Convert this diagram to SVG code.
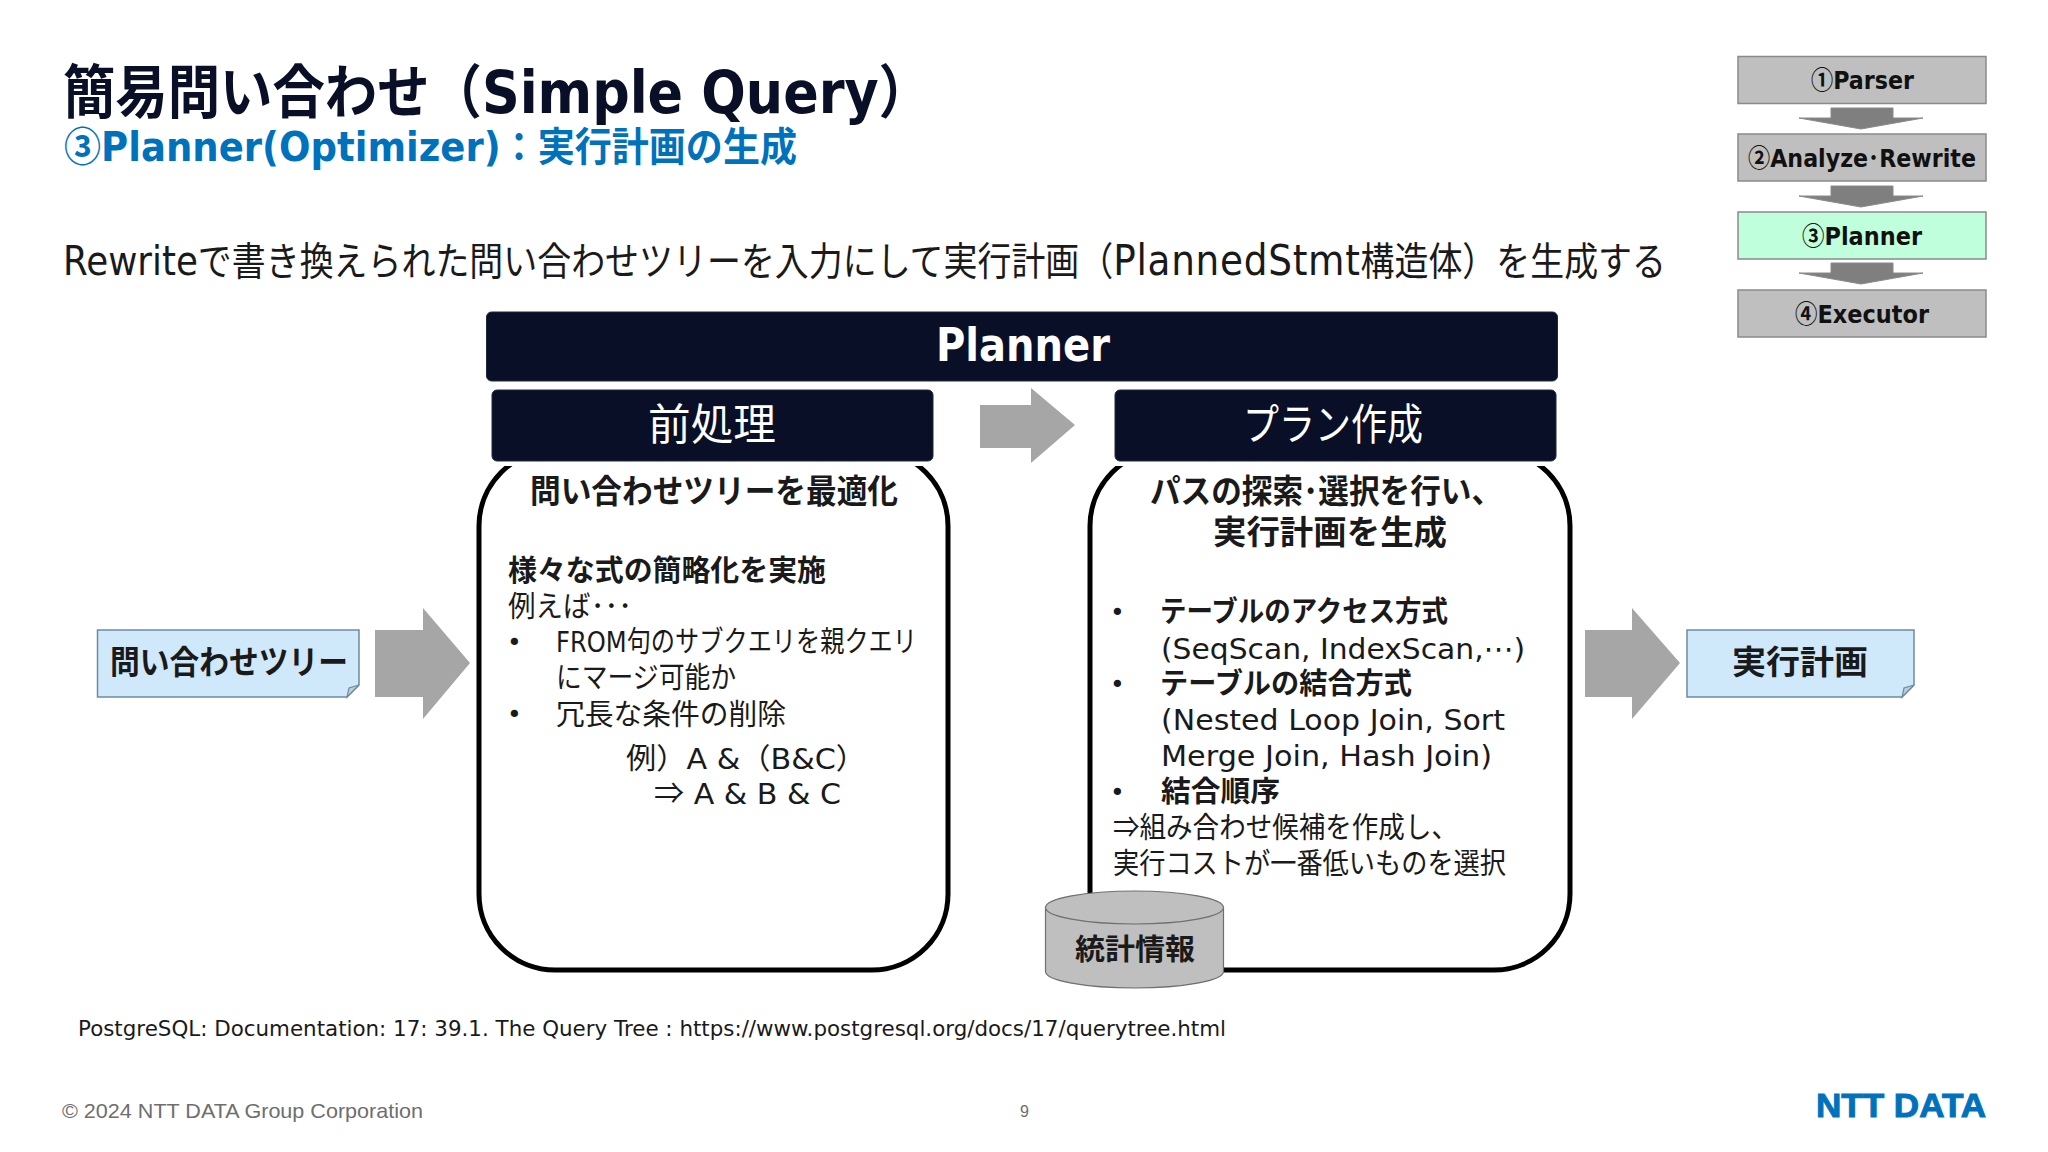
<svg xmlns="http://www.w3.org/2000/svg" width="2048" height="1152" viewBox="0 0 2048 1152">
<style>
text{font-family:"DejaVu Sans","Noto Sans CJK JP",sans-serif;fill:#1a1a1a}
.c{font-family:"Noto Sans CJK JP",sans-serif}
.b{font-weight:700}
.dk{fill:#080f26}
.step{font-size:25px;font-weight:700;fill:#111}
.stepbox{stroke:#8a8a8a;stroke-width:1.5}
.grey{fill:#bfbfbf}
.dn{fill:#7f7f7f;stroke:#8a8a8a;stroke-width:1}
.big{fill:#a6a6a6}
.hd{fill:#080f26;stroke:#1f2940;stroke-width:1}
.panel{fill:#fff;stroke:#000;stroke-width:5}
.note{fill:#cfe9fb;stroke:#6f8aa0;stroke-width:1.5}
.fold{fill:#b9cfdc;stroke:#6f8aa0;stroke-width:1.2}
.t33{font-size:33px;font-weight:700}
.t29{font-size:29px}
.dot{font-size:25px}
</style>
<rect width="2048" height="1152" fill="#fff"/>

<g id="title">
<text x="63" y="113" font-size="58" class="b dk" textLength="868" lengthAdjust="spacingAndGlyphs">簡易問い合わせ（Simple Query）</text>
<text x="64" y="161" font-size="40" class="b" style="fill:#0072bc" textLength="733" lengthAdjust="spacingAndGlyphs"><tspan class="c">③</tspan>Planner(Optimizer)：実行計画の生成</text>
<text x="63" y="275" font-size="39" textLength="1603" lengthAdjust="spacingAndGlyphs"><tspan font-size="41">Rewrite</tspan>で書き換えられた問い合わせツリーを入力にして実行計画（<tspan font-size="43" letter-spacing="0.8">PlannedStmt</tspan>構造体）を生成する</text>
</g>

<g id="connectors">
<polygon class="dn" points="1831,108 1893,108 1893,118 1923,118 1861,129 1799,118 1831,118"/>
<polygon class="dn" points="1831,186 1893,186 1893,196 1923,196 1861,207 1799,196 1831,196"/>
<polygon class="dn" points="1831,263 1893,263 1893,273 1923,273 1861,284 1799,273 1831,273"/>
<polygon class="big" points="375,630 423,630 423,608 470,663 423,719 423,697 375,697"/>
<polygon class="big" points="980,405 1031,405 1031,388 1075,425 1031,463 1031,448 980,448"/>
<polygon class="big" points="1585,630 1632,630 1632,608 1680,663 1632,719 1632,697 1585,697"/>
</g>

<g id="step-parser"><rect class="stepbox grey" x="1738" y="56.500" width="248" height="47"/><text class="step" x="1811" y="89" textLength="103" lengthAdjust="spacingAndGlyphs"><tspan class="c">①</tspan>Parser</text></g>
<g id="step-analyze"><rect class="stepbox grey" x="1738" y="134" width="248" height="47"/><text class="step" x="1748" y="167" textLength="228" lengthAdjust="spacingAndGlyphs"><tspan class="c">②</tspan>Analyze･Rewrite</text></g>
<g id="step-planner"><rect class="stepbox" fill="#bfffdc" x="1738" y="212" width="248" height="47"/><text class="step" x="1802" y="245" textLength="120" lengthAdjust="spacingAndGlyphs"><tspan class="c">③</tspan>Planner</text></g>
<g id="step-executor"><rect class="stepbox grey" x="1738" y="290" width="248" height="47"/><text class="step" x="1795" y="323" textLength="134" lengthAdjust="spacingAndGlyphs"><tspan class="c">④</tspan>Executor</text></g>

<g id="planner-bar"><rect class="hd" x="486.500" y="312" width="1071" height="69" rx="5"/><text class="b" x="936" y="361" font-size="46" style="fill:#fff" textLength="174" lengthAdjust="spacingAndGlyphs">Planner</text></g>

<g id="panel-pre">
<rect class="panel" x="479" y="450" width="469" height="520" rx="76"/>
<rect x="484" y="461" width="460" height="5" fill="#fff"/>
<rect class="hd" x="492" y="390" width="441" height="71" rx="5"/>
<text x="648" y="440" font-size="43" style="fill:#fff" textLength="128" lengthAdjust="spacingAndGlyphs">前処理</text>
<text class="t33" x="530" y="503" textLength="368" lengthAdjust="spacingAndGlyphs">問い合わせツリーを最適化</text>
<text class="t29 b" x="508" y="581" textLength="318" lengthAdjust="spacingAndGlyphs">様々な式の簡略化を実施</text>
<text class="t29" x="508" y="617" textLength="124" lengthAdjust="spacingAndGlyphs">例えば･･･</text>
<text class="dot" x="507" y="651">•</text>
<text class="t29" x="556" y="652" textLength="361" lengthAdjust="spacingAndGlyphs">FROM句のサブクエリを親クエリ</text>
<text class="t29" x="556" y="688" textLength="180" lengthAdjust="spacingAndGlyphs">にマージ可能か</text>
<text class="dot" x="507" y="723">•</text>
<text class="t29" x="556" y="725" textLength="230" lengthAdjust="spacingAndGlyphs">冗長な条件の削除</text>
<text class="t29" x="626" y="769" textLength="240" lengthAdjust="spacingAndGlyphs">例）A &amp;（B&amp;C）</text>
<text class="t29" x="654" y="804" textLength="187" lengthAdjust="spacingAndGlyphs"><tspan class="c">⇒</tspan> A &amp; B &amp; C</text>
</g>

<g id="panel-plan">
<rect class="panel" x="1090" y="450" width="480" height="520" rx="76"/>
<rect x="1094" y="461" width="472" height="5" fill="#fff"/>
<rect class="hd" x="1115" y="390" width="441" height="71" rx="5"/>
<text x="1243" y="440" font-size="43" style="fill:#fff" textLength="180" lengthAdjust="spacingAndGlyphs">プラン作成</text>
<text class="t33" x="1150" y="503" textLength="352" lengthAdjust="spacingAndGlyphs">パスの探索･選択を行い、</text>
<text class="t33" x="1213" y="544" textLength="234" lengthAdjust="spacingAndGlyphs">実行計画を生成</text>
<text class="dot" x="1110" y="621">•</text>
<text class="t29 b" x="1160" y="622" textLength="288" lengthAdjust="spacingAndGlyphs">テーブルのアクセス方式</text>
<text class="t29" x="1161" y="659" textLength="364" lengthAdjust="spacingAndGlyphs">(SeqScan, IndexScan,⋯)</text>
<text class="dot" x="1110" y="693">•</text>
<text class="t29 b" x="1160" y="694" textLength="252" lengthAdjust="spacingAndGlyphs">テーブルの結合方式</text>
<text class="t29" x="1161" y="730" textLength="344" lengthAdjust="spacingAndGlyphs">(Nested Loop Join, Sort</text>
<text class="t29" x="1161" y="766" textLength="331" lengthAdjust="spacingAndGlyphs">Merge Join, Hash Join)</text>
<text class="dot" x="1110" y="801">•</text>
<text class="t29 b" x="1161" y="802" textLength="119" lengthAdjust="spacingAndGlyphs">結合順序</text>
<text class="t29" x="1113" y="838" textLength="345" lengthAdjust="spacingAndGlyphs"><tspan class="c">⇒</tspan>組み合わせ候補を作成し、</text>
<text class="t29" x="1113" y="874" textLength="393" lengthAdjust="spacingAndGlyphs">実行コストが一番低いものを選択</text>
</g>

<g id="stats">
<path d="M1048,907.500 V971.500 A89,16.500 0 0 0 1226,971.500 V907.500 Z" fill="#bfbfbf" stroke="#6f6f6f" stroke-width="1.2" transform="translate(-2.500,0)"/>
<ellipse cx="1134.500" cy="907.500" rx="89" ry="16.500" fill="#bfbfbf" stroke="#6f6f6f" stroke-width="1.2"/>
<text class="t29 b" x="1075" y="960" textLength="120" lengthAdjust="spacingAndGlyphs">統計情報</text>
</g>

<g id="note-input">
<path class="note" d="M97.500,630 H359 V685 L347,697 H97.500 Z"/>
<path class="fold" d="M359,685 L349,688 L347,697 Z"/>
<text class="t33" x="110" y="674" textLength="238" lengthAdjust="spacingAndGlyphs">問い合わせツリー</text>
</g>
<g id="note-output">
<path class="note" d="M1687,630 H1914 V685 L1902,697 H1687 Z"/>
<path class="fold" d="M1914,685 L1904,688 L1902,697 Z"/>
<text class="t33" x="1732" y="674" textLength="136" lengthAdjust="spacingAndGlyphs">実行計画</text>
</g>

<g id="footer">
<text x="78" y="1036" font-size="22" textLength="1148" lengthAdjust="spacingAndGlyphs">PostgreSQL: Documentation: 17: 39.1. The Query Tree : https://www.postgresql.org/docs/17/querytree.html</text>
<text x="62" y="1118" font-size="21" style="font-family:'Liberation Sans',sans-serif;fill:#6e6e6e" textLength="361" lengthAdjust="spacingAndGlyphs">© 2024 NTT DATA Group Corporation</text>
<text x="1020" y="1117" font-size="16" style="font-family:'Liberation Sans',sans-serif;fill:#6e6e6e">9</text>
<text x="1816" y="1117" font-size="34" style="font-family:'Liberation Sans',sans-serif;fill:#0072bc;font-weight:700;stroke:#0072bc;stroke-width:1" textLength="170" lengthAdjust="spacingAndGlyphs">NTT DATA</text>
</g>
</svg>
